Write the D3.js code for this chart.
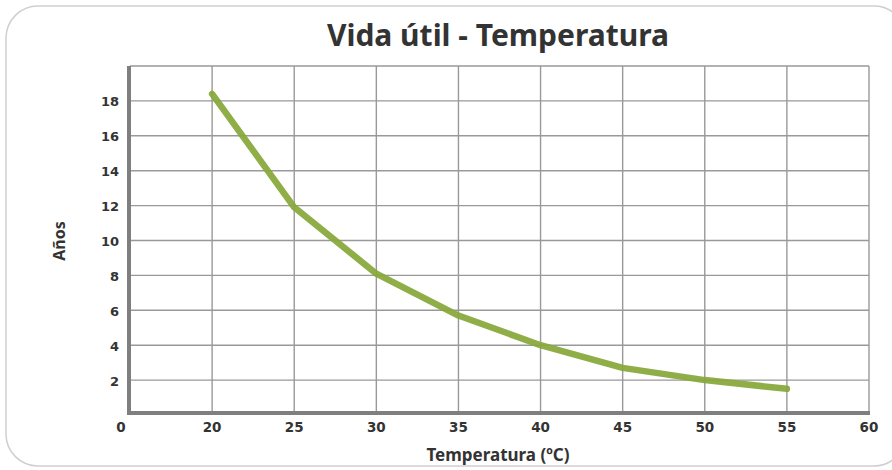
<!DOCTYPE html>
<html>
<head>
<meta charset="utf-8">
<script src="https://cdn.jsdelivr.net/npm/d3@7"></script>
<style>
  body { margin: 0; background: #fff; }
  svg { display: block; }
</style>
</head>
<body>
<svg id="chart" width="892" height="470"></svg>
<script>
// tick labels along x, evenly spaced (0 is just the origin label)
const xTicks = ["0", "20", "25", "30", "35", "40", "45", "50", "55", "60"];
const yTicks = [2, 4, 6, 8, 10, 12, 14, 16, 18];

// temperature (ºC) vs years of useful life
const temps = ["20", "25", "30", "35", "40", "45", "50", "55"];
const years = [18.4, 11.9, 8.1, 5.7, 4.0, 2.7, 2.0, 1.5];

const svg = d3.select("#chart");
const W = 892, H = 470;
const margin = { top: 66, right: 23, bottom: 55, left: 130 };

// rounded frame
svg.append("rect")
  .attr("x", 6).attr("y", 6)
  .attr("width", 900).attr("height", 460)
  .attr("rx", 32).attr("ry", 32)
  .attr("fill", "none")
  .attr("stroke", "#cfcfcf")
  .attr("stroke-width", 1.5);

const x = d3.scalePoint()
  .domain(xTicks)
  .range([margin.left, W - margin.right]);

const y = d3.scaleLinear()
  .domain([0, 20])
  .range([H - margin.bottom, margin.top]);

const grid = svg.append("g").attr("stroke", "#999").attr("stroke-width", 1.4);

// horizontal gridlines incl. top border
grid.selectAll("line.h")
  .data(yTicks.concat([20]))
  .enter().append("line")
  .attr("x1", x("0")).attr("x2", x("60"))
  .attr("y1", d => y(d)).attr("y2", d => y(d));

// vertical gridlines
grid.selectAll("line.v")
  .data(xTicks.slice(1))
  .enter().append("line")
  .attr("x1", d => x(d)).attr("x2", d => x(d))
  .attr("y1", y(20)).attr("y2", y(0));

// thick axes
svg.append("line")
  .attr("x1", x("0") - 1).attr("x2", x("0") - 1)
  .attr("y1", y(20)).attr("y2", y(0) - 1)
  .attr("stroke", "#7f7f7f").attr("stroke-width", 4);
svg.append("line")
  .attr("x1", x("0") - 3).attr("x2", x("60") + 1)
  .attr("y1", y(0) - 2).attr("y2", y(0) - 2)
  .attr("stroke", "#7f7f7f").attr("stroke-width", 4);

const line = d3.line()
  .x((d, i) => x(temps[i]))
  .y(d => y(d));

svg.append("path")
  .datum(years)
  .attr("fill", "none")
  .attr("stroke", "#88a83a")
  .attr("stroke-opacity", 0.93)
  .attr("stroke-width", 6.5)
  .attr("stroke-linecap", "round")
  .attr("stroke-linejoin", "round")
  .attr("d", line);

// tick labels
svg.append("g")
  .selectAll("text")
  .data(yTicks)
  .enter().append("text")
  .attr("x", 119)
  .attr("y", d => y(d) + 5.5)
  .attr("text-anchor", "end")
  .attr("font-family", "DejaVu Sans")
  .attr("font-weight", "bold")
  .attr("font-size", 13)
  .attr("fill", "#333")
  .text(d => d);

svg.append("g")
  .selectAll("text")
  .data(xTicks)
  .enter().append("text")
  .attr("x", d => x(d) - (d === "0" ? 9 : 0))
  .attr("y", 432)
  .attr("text-anchor", "middle")
  .attr("font-family", "DejaVu Sans")
  .attr("font-weight", "bold")
  .attr("font-size", 13.5)
  .attr("fill", "#333")
  .text(d => d);

// titles
svg.append("text")
  .attr("x", 498).attr("y", 46)
  .attr("text-anchor", "middle")
  .attr("font-family", "Noto Sans")
  .attr("font-weight", "bold")
  .attr("font-size", 30)
  .attr("fill", "#333")
  .text("Vida útil - Temperatura");

svg.append("text")
  .attr("x", 498).attr("y", 461)
  .attr("text-anchor", "middle")
  .attr("font-family", "Noto Sans")
  .attr("font-weight", "bold")
  .attr("font-size", 17)
  .attr("fill", "#333")
  .text("Temperatura (ºC)");

svg.append("text")
  .attr("transform", "translate(65,241) rotate(-90)")
  .attr("text-anchor", "middle")
  .attr("font-family", "Noto Sans")
  .attr("font-weight", "bold")
  .attr("font-size", 16)
  .attr("fill", "#333")
  .text("Años");
</script>
</body>
</html>
